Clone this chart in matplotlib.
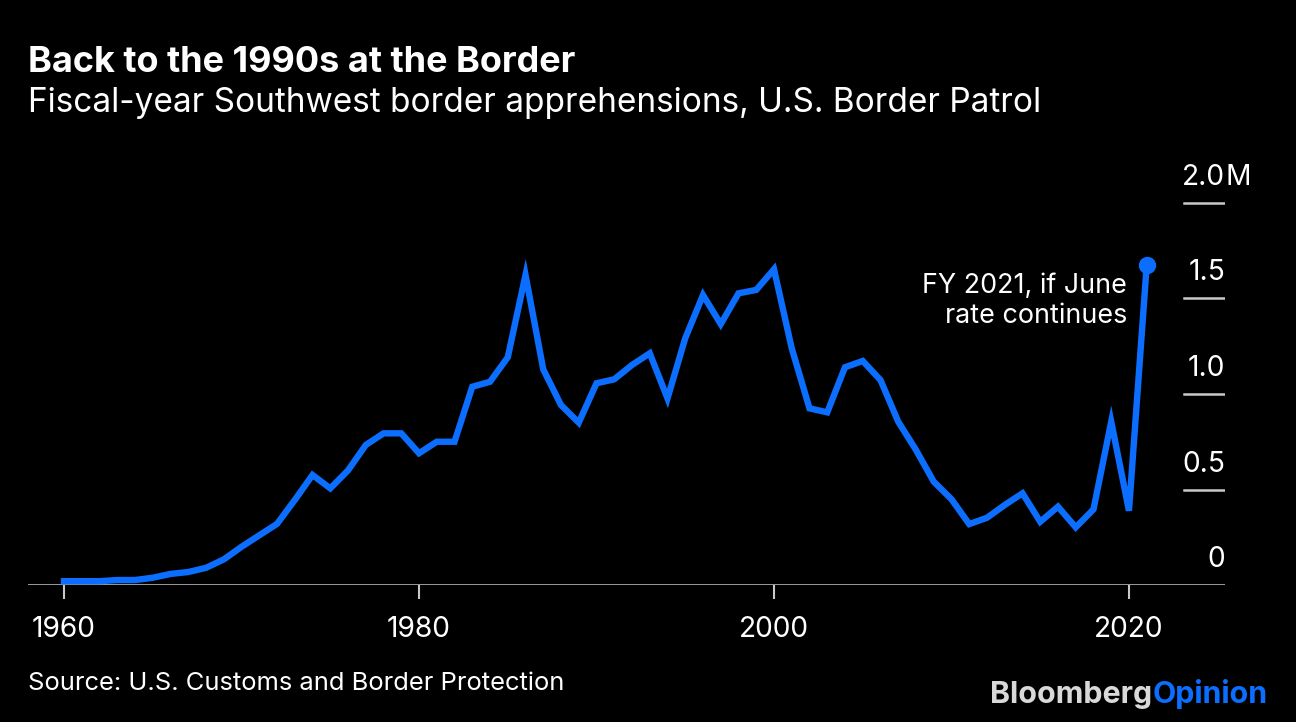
import matplotlib
matplotlib.use("Agg")
import matplotlib.pyplot as plt
import matplotlib.transforms as mtransforms

plt.rcParams['font.family'] = ['Inter', 'Liberation Sans', 'DejaVu Sans']

years = list(range(1960, 2022))
apprehensions_m = [
    0.02, 0.02, 0.02, 0.026, 0.026, 0.038, 0.058, 0.068, 0.09, 0.134,
    0.20, 0.26, 0.32, 0.445, 0.576, 0.506, 0.60, 0.733, 0.794, 0.794,
    0.69, 0.75, 0.75, 1.038, 1.064, 1.192, 1.623, 1.129, 0.942, 0.85,
    1.056, 1.077, 1.152, 1.213, 0.977, 1.292, 1.518, 1.366, 1.527, 1.545,
    1.653, 1.239, 0.925, 0.904, 1.14, 1.173, 1.073, 0.855, 0.707, 0.541,
    0.449, 0.319, 0.352, 0.419, 0.48, 0.331, 0.41, 0.302, 0.396, 0.855,
    0.389, 1.675,
]
x_ticks = [1960, 1980, 2000, 2020]
y_ticks = [0, 0.5, 1.0, 1.5, 2.0]
y_tick_labels = ["0", "0.5", "1.0", "1.5", "2.0"]
y_unit = "M"

W, H = 1296, 722
BG = "#000000"
LINE = "#0b6eff"
GRID = "#c8c8c8"

fig = plt.figure(figsize=(W / 100, H / 100), dpi=100, facecolor=BG)
renderer = fig.canvas.get_renderer()


def fit_size(text, target_px, weight='normal'):
    t = fig.text(0, 0, text, fontsize=20, fontweight=weight)
    w = t.get_window_extent(renderer=renderer).width
    t.remove()
    return 20 * target_px / w


FS_TICK = fit_size("1960", 64)
FS_ANN = fit_size("FY 2021, if June", 205)

left_px, right_px, top_px, bot_px = 28, 1225, 160, 585
ax = fig.add_axes([left_px / W, 1 - bot_px / H, (right_px - left_px) / W, (bot_px - top_px) / H])
ax.set_facecolor(BG)
ax.set_xlim(1957.97, 2025.41)
ax.set_ylim(0, (bot_px - top_px) / 191.0)
for s in ax.spines.values():
    s.set_visible(False)
ax.set_yticks([])
ax.set_xticks(x_ticks)
ax.set_xticklabels([str(v) for v in x_ticks], color="white", fontsize=FS_TICK)
ax.tick_params(axis='x', length=10, width=1.5, color=GRID, pad=12)

ax.axhline(0, color=GRID, lw=1.8, zorder=1)
tick_xmin = (1184 - left_px) / (right_px - left_px)
btrans = mtransforms.blended_transform_factory(ax.transAxes, ax.transData)
off = mtransforms.ScaledTranslation(0, 18 / 100, fig.dpi_scale_trans)
for v, lab in zip(y_ticks, y_tick_labels):
    if v > 0:
        ax.axhline(v, xmin=tick_xmin, xmax=1.0, color=GRID, lw=1.8, zorder=1)
    t = ax.text(1.0, v, lab, transform=btrans + off, ha='right', va='baseline',
                color="white", fontsize=FS_TICK)
    if v == y_ticks[-1]:
        ax.text(1.0, v, y_unit, transform=btrans + off, ha='left', va='baseline',
                color="white", fontsize=FS_TICK)

ax.plot(years, apprehensions_m, color=LINE, lw=4.6, solid_joinstyle='miter', zorder=3, clip_on=False)
ax.plot([years[-1]], [apprehensions_m[-1]], 'o', color=LINE, ms=11.5, zorder=4, clip_on=False)

fig.text(1127 / W, 1 - 293 / H, "FY 2021, if June", color="white", fontsize=FS_ANN,
         ha='right', va='baseline')
fig.text(1127 / W, 1 - 323 / H, "rate continues", color="white", fontsize=FS_ANN,
         ha='right', va='baseline')

fig.text(28 / W, 1 - 72 / H, "Back to the 1990s at the Border", color="white",
         fontsize=fit_size("Back to the 1990s at the Border", 550, 'bold'),
         fontweight='bold', ha='left', va='baseline')
sub = "Fiscal-year Southwest border apprehensions, U.S. Border Patrol"
fig.text(28 / W, 1 - 112 / H, sub, color="white", fontsize=fit_size(sub, 1012),
         ha='left', va='baseline')
src = "Source: U.S. Customs and Border Protection"
fig.text(28 / W, 1 - 690 / H, src, color="white", fontsize=fit_size(src, 537),
         ha='left', va='baseline')

FS_LOGO = fit_size("BloombergOpinion", 278, 'bold')
t1 = fig.text(990 / W, 1 - 703 / H, "Bloomberg", color="#d9d9d9", fontsize=FS_LOGO,
              fontweight='bold', ha='left', va='baseline')
bb = t1.get_window_extent(renderer=renderer)
fig.text(bb.x1 / W, 1 - 703 / H, "Opinion", color=LINE, fontsize=FS_LOGO,
         fontweight='bold', ha='left', va='baseline')

fig.savefig("out.png", dpi=100, facecolor=BG)
